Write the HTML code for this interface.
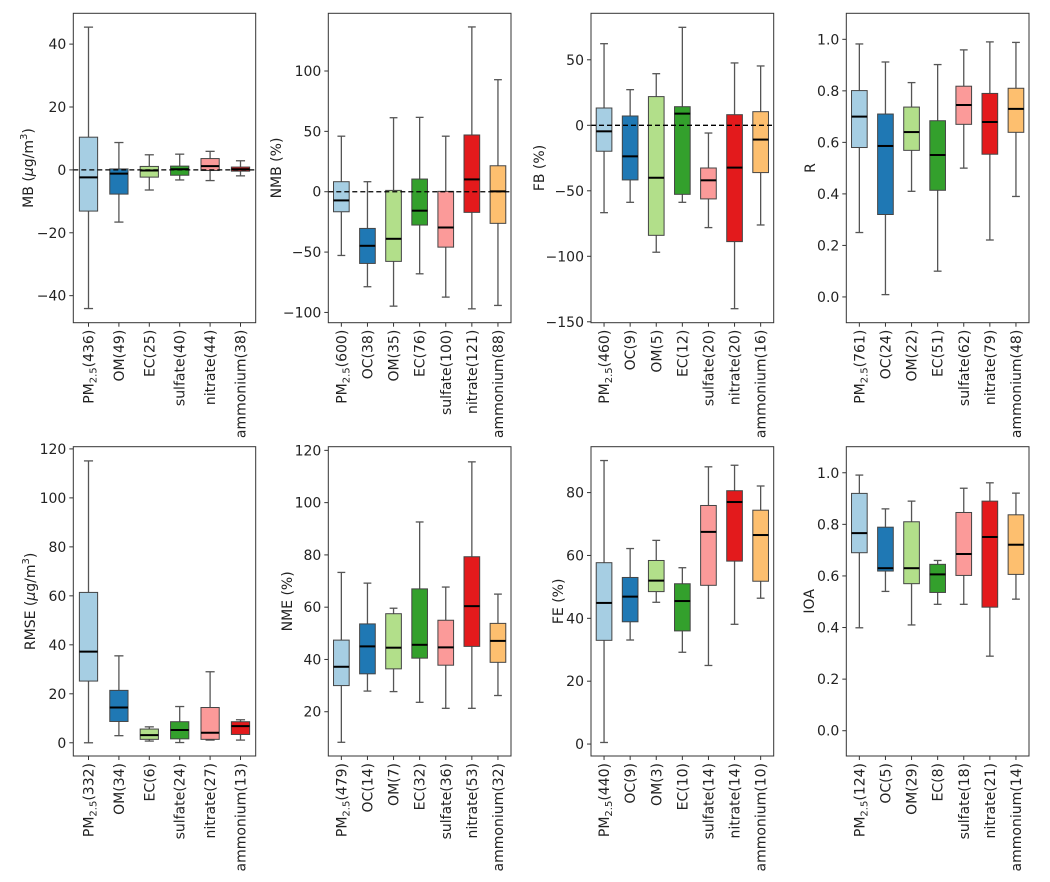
<!DOCTYPE html>
<html><head><meta charset="utf-8"><style>
html,body{margin:0;padding:0;background:#fff;}
svg{display:block;font-family:"DejaVu Sans","Liberation Sans",sans-serif;}
</style></head><body>
<svg id="fig" width="1050" height="882" viewBox="0 0 1050 882" xmlns="http://www.w3.org/2000/svg"></svg>
<script>
// ---- data ----
const colors = ["#a6cee3","#1f78b4","#b2df8a","#33a02c","#fb9a99","#e31a1c","#fdbf6f"];

const mbCats = ["PM2.5(436)","OM(49)","EC(25)","sulfate(40)","nitrate(44)","ammonium(38)"];
const mbLo  = [-44.1,-16.6,-6.4,-3.2,-3.4,-1.9];
const mbQ1  = [-13.1,-7.7,-2.3,-1.7,-0.2,-0.4];
const mbMed = [-2.4,-1.2,-0.2,0.2,1.2,0.2];
const mbQ3  = [10.4,0.3,1.1,1.2,3.6,0.9];
const mbHi  = [45.4,8.7,4.8,5.0,5.9,2.9];
const mbTicks = [-40,-20,0,20,40];

const nmbCats = ["PM2.5(600)","OC(38)","OM(35)","EC(76)","sulfate(100)","nitrate(121)","ammonium(88)"];
const nmbLo  = [-52.8,-78.7,-94.8,-68,-87.3,-97,-94.2];
const nmbQ1  = [-16.6,-59.4,-57.7,-27.6,-45.9,-17.1,-26.2];
const nmbMed = [-7.2,-44.8,-39,-15.7,-29.6,10.2,0.3];
const nmbQ3  = [8.3,-30.4,1.1,10.5,0.3,47,21.5];
const nmbHi  = [46,8.3,61.3,61.6,46,136.5,92.8];
const nmbTicks = [-100,-50,0,50,100];

const fbCats = ["PM2.5(460)","OC(9)","OM(5)","EC(12)","sulfate(20)","nitrate(20)","ammonium(16)"];
const fbLo  = [-66.7,-58.8,-96.9,-58.8,-78.1,-140,-76.1];
const fbQ1  = [-19.8,-41.7,-84,-52.7,-56.2,-88.8,-36.1];
const fbMed = [-4.6,-23.7,-40,8.9,-42,-32.3,-10.9];
const fbQ3  = [13.2,7.1,21.9,14.2,-32.6,8.1,10.4];
const fbHi  = [62.3,27.2,39.4,74.8,-5.9,47.6,45.3];
const fbTicks = [-150,-100,-50,0,50];

const rCats = ["PM2.5(761)","OC(24)","OM(22)","EC(51)","sulfate(62)","nitrate(79)","ammonium(48)"];
const rLo  = [0.25,0.009,0.41,0.1,0.5,0.221,0.39];
const rQ1  = [0.58,0.32,0.569,0.414,0.67,0.554,0.639];
const rMed = [0.70,0.586,0.64,0.551,0.745,0.679,0.73];
const rQ3  = [0.801,0.71,0.737,0.684,0.818,0.79,0.81];
const rHi  = [0.982,0.912,0.832,0.902,0.959,0.99,0.988];
const rTicks = [0,0.2,0.4,0.6,0.8,1.0];

const rmseCats = ["PM2.5(332)","OM(34)","EC(6)","sulfate(24)","nitrate(27)","ammonium(13)"];
const rmseLo  = [0,2.9,0.7,0.1,1.1,1.1];
const rmseQ1  = [25.2,8.7,1.4,1.6,1.4,3.4];
const rmseMed = [37.2,14.4,3.1,5.2,4.1,6.8];
const rmseQ3  = [61.4,21.4,5.6,8.6,14.4,8.6];
const rmseHi  = [115.1,35.5,6.5,14.8,29,9.4];
const rmseTicks = [0,20,40,60,80,100,120];

const nmeCats = ["PM2.5(479)","OC(14)","OM(7)","EC(32)","sulfate(36)","nitrate(53)","ammonium(32)"];
const nmeLo  = [8.3,27.9,27.7,23.6,21.3,21.3,26.2];
const nmeQ1  = [30,34.5,36.4,40.5,37.8,45,38.9];
const nmeMed = [37.2,45.0,44.5,45.6,44.6,60.4,47.1];
const nmeQ3  = [47.4,53.6,57.5,67,55,79.3,53.8];
const nmeHi  = [73.3,69.2,59.6,92.6,67.7,115.6,65];
const nmeTicks = [20,40,60,80,100,120];

const feCats = ["PM2.5(440)","OC(9)","OM(3)","EC(10)","sulfate(14)","nitrate(14)","ammonium(10)"];
const feLo  = [0.5,33.1,45.1,29.2,25,38.1,46.4];
const feQ1  = [33,38.9,48.5,36,50.5,58.2,51.8];
const feMed = [44.9,46.9,52,45.5,67.5,77,66.5];
const feQ3  = [57.7,53,58.4,51,75.9,80.6,74.4];
const feHi  = [90.2,62.2,64.8,56.1,88.2,88.7,82.1];
const feTicks = [0,20,40,60,80];

const ioaCats = ["PM2.5(124)","OC(5)","OM(29)","EC(8)","sulfate(18)","nitrate(21)","ammonium(14)"];
const ioaLo  = [0.399,0.54,0.41,0.49,0.49,0.289,0.51];
const ioaQ1  = [0.69,0.619,0.57,0.536,0.602,0.479,0.606];
const ioaMed = [0.766,0.63,0.63,0.606,0.685,0.751,0.721];
const ioaQ3  = [0.92,0.789,0.81,0.645,0.846,0.89,0.837];
const ioaHi  = [0.991,0.86,0.89,0.66,0.94,0.961,0.921];
const ioaTicks = [0,0.2,0.4,0.6,0.8,1.0];

// ---- drawing ----
const NS = "http://www.w3.org/2000/svg";
const svg = document.getElementById('fig');
function mk(tag, attrs, parent){
  const e = document.createElementNS(NS, tag);
  for (const k in attrs) e.setAttribute(k, attrs[k]);
  (parent||svg).appendChild(e);
  return e;
}
function fmt(v, dec){ const s = v.toFixed(dec); return s.replace('-', '\u2212'); }

function panel(cfg){
  const g = mk('g', {});
  
  
  const L=cfg.l, R=cfg.r, T=cfg.t, B=cfg.b;
  const n = cfg.cats.length;
  const sx = i => L + (i + 0.5) * (R - L) / n;
  const sy = v => B - (v - cfg.ymin) / (cfg.ymax - cfg.ymin) * (B - T);
  const bw = 0.6 * (R - L) / n;

  // boxes
  for (let i = 0; i < n; i++){
    const bg = mk('g', {}, g);
    
    
    const x = sx(i);
    mk('line', {x1:x, x2:x, y1:sy(cfg.hi[i]), y2:sy(cfg.q3[i]), stroke:'#555', 'stroke-width':1.3}, bg);
    mk('line', {x1:x, x2:x, y1:sy(cfg.q1[i]), y2:sy(cfg.lo[i]), stroke:'#555', 'stroke-width':1.3}, bg);
    mk('line', {x1:x-bw/4, x2:x+bw/4, y1:sy(cfg.hi[i]), y2:sy(cfg.hi[i]), stroke:'#555', 'stroke-width':1.3}, bg);
    mk('line', {x1:x-bw/4, x2:x+bw/4, y1:sy(cfg.lo[i]), y2:sy(cfg.lo[i]), stroke:'#555', 'stroke-width':1.3}, bg);
    const yt = sy(cfg.q3[i]), yb = sy(cfg.q1[i]);
    mk('rect', {x:x-bw/2, y:yt, width:bw, height:Math.max(yb-yt,0.5), fill:colors[i], stroke:'#444', 'stroke-width':1}, bg);
    mk('line', {x1:x-bw/2, x2:x+bw/2, y1:sy(cfg.med[i]), y2:sy(cfg.med[i]), stroke:'#000', 'stroke-width':2}, bg);
  }
  if (cfg.zero){
    const z = mk('line', {x1:L, x2:R, y1:sy(0), y2:sy(0), stroke:'#000', 'stroke-width':1.3, 'stroke-dasharray':'5,3'}, g);
    
    
  }
  // frame
  const fr = mk('rect', {x:L, y:T, width:R-L, height:B-T, fill:'none', stroke:'#333', 'stroke-width':1}, g);
  
  

  // y ticks
  for (const v of cfg.ticks){
    const y = sy(v);
    mk('line', {x1:L-4, x2:L, y1:y, y2:y, stroke:'#333', 'stroke-width':1}, g);
    const t = mk('text', {x:L-7, y:y+5, 'text-anchor':'end', 'font-size':14, fill:'#222'}, g);
    t.textContent = fmt(v, cfg.dec);
    
    
  }
  // x ticks
  for (let i = 0; i < n; i++){
    const x = sx(i);
    mk('line', {x1:x, x2:x, y1:B, y2:B+4, stroke:'#333', 'stroke-width':1}, g);
    const t = mk('text', {transform:`translate(${x+5},${B+7}) rotate(-90)`, 'text-anchor':'end', 'font-size':14, fill:'#222'}, g);
    
    
    const lab = cfg.cats[i];
    if (lab.startsWith('PM2.5')){
      const a = mk('tspan', {}, t); a.textContent = 'PM';
      const b = mk('tspan', {'font-size':10, dy:3}, t); b.textContent = '2.5';
      const c = mk('tspan', {dy:-3}, t); c.textContent = lab.slice(5);
    } else t.textContent = lab;
  }
  // y label
  const yl = mk('text', {transform:`translate(${cfg.ylx},${(T+B)/2}) rotate(-90)`, 'text-anchor':'middle', 'font-size':14, fill:'#222'}, g);
  
  
  if (cfg.unit){
    const a = mk('tspan', {}, yl); a.textContent = cfg.ylabel + ' (';
    const b = mk('tspan', {'font-style':'italic'}, yl); b.textContent = 'μ';
    const c = mk('tspan', {}, yl); c.textContent = 'g/m';
    const d = mk('tspan', {'font-size':10, dy:-6}, yl); d.textContent = '3';
    const e = mk('tspan', {dy:6}, yl); e.textContent = ')';
  } else yl.textContent = cfg.ylabel;
}

const rows = [{t:13.3,b:322.7},{t:446.7,b:756}];
const cols = [{l:73.3,r:255.7},{l:328.3,r:511},{l:591,r:773.7},{l:846.3,r:1029}];

panel({name:'mb', cats:mbCats, lo:mbLo, q1:mbQ1, med:mbMed, q3:mbQ3, hi:mbHi, ticks:mbTicks, dec:0,
  ymin:-48.6, ymax:49.8, zero:true, ylabel:'MB', unit:true, ylx:33, ...cols[0], ...rows[0]});
panel({name:'nmb', cats:nmbCats, lo:nmbLo, q1:nmbQ1, med:nmbMed, q3:nmbQ3, hi:nmbHi, ticks:nmbTicks, dec:0,
  ymin:-108.5, ymax:147.8, zero:true, ylabel:'NMB (%)', ylx:281, ...cols[1], ...rows[0]});
panel({name:'fb', cats:fbCats, lo:fbLo, q1:fbQ1, med:fbMed, q3:fbQ3, hi:fbHi, ticks:fbTicks, dec:0,
  ymin:-150.7, ymax:85.5, zero:true, ylabel:'FB (%)', ylx:544, ...cols[2], ...rows[0]});
panel({name:'r', cats:rCats, lo:rLo, q1:rQ1, med:rMed, q3:rQ3, hi:rHi, ticks:rTicks, dec:1,
  ymin:-0.1, ymax:1.101, zero:false, ylabel:'R', ylx:815, ...cols[3], ...rows[0]});
panel({name:'rmse', cats:rmseCats, lo:rmseLo, q1:rmseQ1, med:rmseMed, q3:rmseQ3, hi:rmseHi, ticks:rmseTicks, dec:0,
  ymin:-5.4, ymax:120.9, zero:false, ylabel:'RMSE', unit:true, ylx:35, ...cols[0], ...rows[1]});
panel({name:'nme', cats:nmeCats, lo:nmeLo, q1:nmeQ1, med:nmeMed, q3:nmeQ3, hi:nmeHi, ticks:nmeTicks, dec:0,
  ymin:3.06, ymax:121.4, zero:false, ylabel:'NME (%)', ylx:292, ...cols[1], ...rows[1]});
panel({name:'fe', cats:feCats, lo:feLo, q1:feQ1, med:feMed, q3:feQ3, hi:feHi, ticks:feTicks, dec:0,
  ymin:-3.8, ymax:94.6, zero:false, ylabel:'FE (%)', ylx:563, ...cols[2], ...rows[1]});
panel({name:'ioa', cats:ioaCats, lo:ioaLo, q1:ioaQ1, med:ioaMed, q3:ioaQ3, hi:ioaHi, ticks:ioaTicks, dec:1,
  ymin:-0.098, ymax:1.101, zero:false, ylabel:'IOA', ylx:814, ...cols[3], ...rows[1]});
</script>
</body></html>
